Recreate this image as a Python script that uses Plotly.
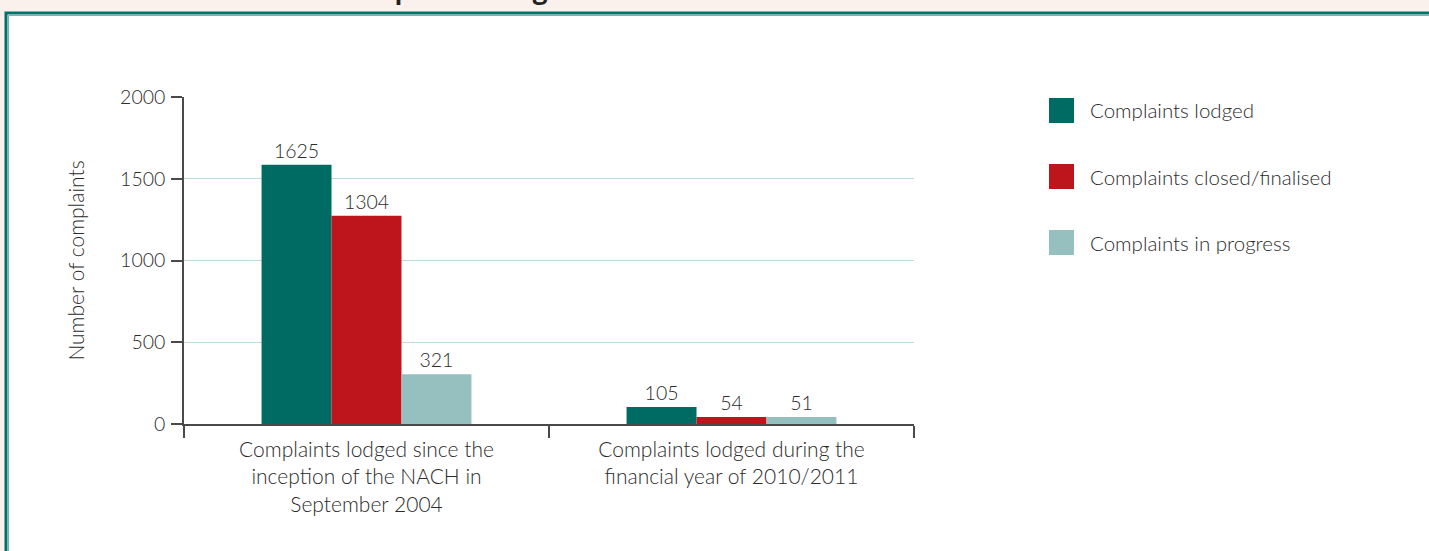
import plotly.graph_objects as go

categories = [
    "Complaints lodged since the<br>inception of the NACH in<br>September 2004",
    "Complaints lodged during the<br>financial year of 2010/2011",
]
series_names = ["Complaints lodged", "Complaints closed/finalised", "Complaints in progress"]
series_colors = ["#006b63", "#be141b", "#96bfc0"]
# bar heights as drawn in the picture
bar_heights = [
    [1585, 104],
    [1274, 43],
    [305, 43],
]
# printed data labels
bar_labels = [
    [1625, 105],
    [1304, 54],
    [321, 51],
]
y_ticks = [0, 500, 1000, 1500, 2000]

FONT = "Lato"
WGT = 300
TXT = "#2b2b2b"

W, H = 1429, 551
L, R, T, B = 184, 914, 97, 424  # plot area in px


def px(x):
    return (x - L) / (R - L)


def py(y):
    return (B - y) / (B - T)


def f(size, color=TXT):
    return dict(family=FONT, size=size, color=color, weight=WGT)


fig = go.Figure()
for name, color, h, lab in zip(series_names, series_colors, bar_heights, bar_labels):
    fig.add_trace(go.Bar(
        x=categories, y=h, name=name, marker=dict(color=color, line=dict(width=0)),
        text=[str(v) for v in lab], textposition="outside", constraintext="none",
        textfont=f(19.5), cliponaxis=False, showlegend=False,
    ))

shapes = [
    # frame
    dict(type="rect", xref="paper", yref="paper", layer="below",
         x0=px(6), x1=px(1445), y0=py(13), y1=py(570),
         line=dict(color="#00706a", width=3), fillcolor="white"),
    dict(type="rect", xref="paper", yref="paper", layer="below",
         x0=px(8.5), x1=px(1445), y0=py(15.5), y1=py(570),
         line=dict(color="#74b3ae", width=1), fillcolor="rgba(0,0,0,0)"),
]
annotations = [
    dict(text="<b>Number of complaints lodged</b>", xref="paper", yref="paper",
         x=px(186), y=py(8), xanchor="left", yanchor="bottom", showarrow=False,
         font=dict(family=FONT, size=30, color="#222")),
]
# manual legend
for i, (name, color) in enumerate(zip(series_names, series_colors)):
    cy = 110.5 + 66 * i
    shapes.append(dict(type="rect", xref="paper", yref="paper",
                       x0=px(1049), x1=px(1074), y0=py(cy + 12.5), y1=py(cy - 12.5),
                       line=dict(width=0), fillcolor=color))
    annotations.append(dict(text=name, xref="paper", yref="paper", x=px(1088), y=py(cy),
                            xanchor="left", yanchor="middle", showarrow=False,
                            font=f(20.5)))

fig.update_layout(
    width=W, height=H, autosize=False,
    margin=dict(l=L, r=W - R, t=T, b=H - B, pad=0),
    paper_bgcolor="#fbf1ec", plot_bgcolor="white",
    barmode="group", bargap=0.425, bargroupgap=0,
    shapes=shapes, annotations=annotations,
    showlegend=False,
    font=f(19),
)
fig.update_xaxes(
    type="category", showline=True, linecolor="#4a4a4a", linewidth=1.5,
    ticks="outside", tickson="boundaries", ticklen=12, tickcolor="#4a4a4a", tickwidth=1.5,
    tickfont=f(21), ticklabelstandoff=6, showgrid=False,
)
fig.update_yaxes(
    range=[0, 2000], tickvals=y_ticks, showline=True, linecolor="#4a4a4a", linewidth=1.5,
    ticks="outside", ticklen=11, tickcolor="#4a4a4a", tickwidth=1.5,
    tickfont=f(19.5), ticklabelstandoff=2,
    showgrid=True, gridcolor="#bddcdc", gridwidth=1, zeroline=False,
    title=dict(text="Number of complaints", font=f(21), standoff=30),
)

fig.write_html("out.html")
